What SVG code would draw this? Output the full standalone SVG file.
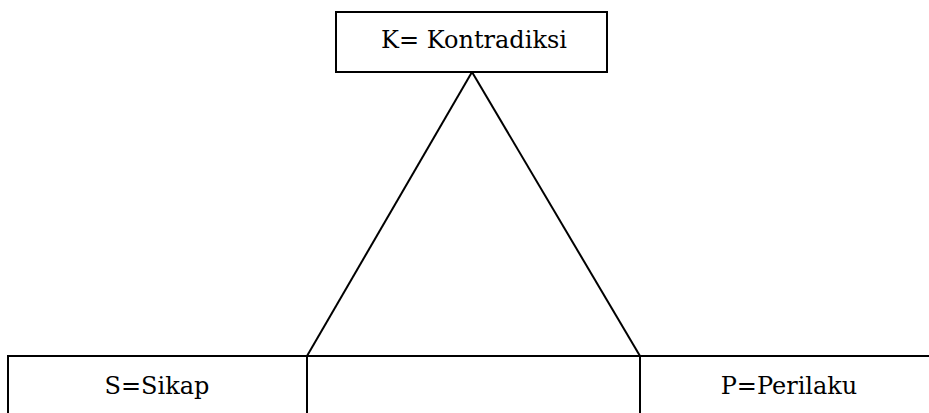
<svg xmlns="http://www.w3.org/2000/svg" width="929" height="413" viewBox="0 0 929 413">
<style>
.box{fill:#fff;stroke:#000;stroke-width:2}
.lbl{font-family:"DejaVu Serif","Liberation Serif",serif;font-size:24px;fill:#000;text-anchor:middle}
.ln{stroke:#000;stroke-width:2;fill:none}
</style>
<rect width="929" height="413" fill="#fff"/>
<g id="connectors">
<line class="ln" x1="472" y1="72" x2="307" y2="356"/>
<line class="ln" x1="472" y1="72" x2="640" y2="356"/>
</g>
<g id="node-k">
<rect class="box" x="336" y="12" width="271" height="60"/>
<text class="lbl" x="474" y="48">K= Kontradiksi</text>
</g>
<g id="node-s">
<rect class="box" x="8" y="356" width="299" height="70"/>
<text class="lbl" x="157" y="394">S=Sikap</text>
</g>
<g id="node-mid">
<rect class="box" x="307" y="356" width="333" height="70"/>
</g>
<g id="node-p">
<rect class="box" x="640" y="356" width="300" height="70"/>
<text class="lbl" x="789" y="394">P=Perilaku</text>
</g>
</svg>
